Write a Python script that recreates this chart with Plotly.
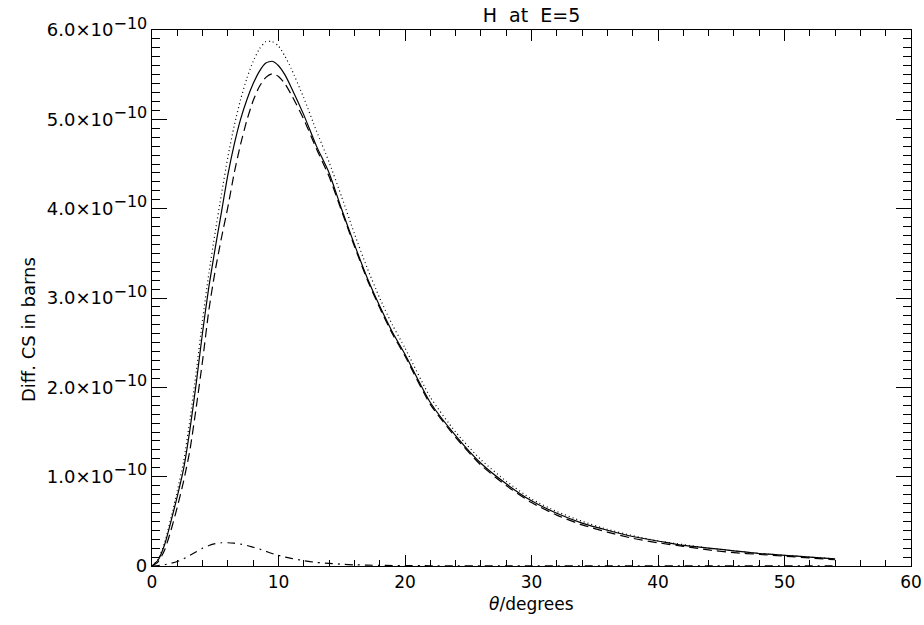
import numpy as np
import plotly.graph_objects as go

# angle (degrees)
theta = [0, 0.5, 1, 1.5, 2, 2.5, 3, 3.5, 4, 4.5, 5, 5.5, 6, 6.5, 7, 7.5, 8, 8.5, 9, 9.5,
         10, 10.5, 11, 12, 13, 14, 15, 16, 17, 18, 19, 20, 22, 24, 26, 28, 30, 32, 34,
         36, 38, 40, 42, 44, 46, 48, 50, 52, 54]

# values in units of 1e-10 barns
solid = [0, 0.07, 0.24, 0.50, 0.78, 1.09, 1.53, 2.05, 2.62, 3.13, 3.56, 3.97, 4.38, 4.72,
         5.00, 5.22, 5.40, 5.54, 5.63, 5.65, 5.60, 5.50, 5.36, 5.05, 4.70, 4.40, 3.99,
         3.60, 3.23, 2.91, 2.62, 2.37, 1.83, 1.46, 1.15, 0.92, 0.73, 0.59, 0.48, 0.40,
         0.33, 0.28, 0.23, 0.20, 0.17, 0.14, 0.12, 0.10, 0.08]
dotted = [0, 0.08, 0.26, 0.54, 0.84, 1.17, 1.64, 2.18, 2.76, 3.28, 3.74, 4.17, 4.58, 4.93,
          5.22, 5.46, 5.65, 5.79, 5.87, 5.87, 5.82, 5.71, 5.57, 5.24, 4.87, 4.52, 4.13,
          3.72, 3.34, 3.00, 2.70, 2.44, 1.89, 1.50, 1.19, 0.95, 0.75, 0.61, 0.50, 0.41,
          0.34, 0.28, 0.24, 0.20, 0.17, 0.14, 0.12, 0.10, 0.08]
dashed = [0, 0.05, 0.18, 0.40, 0.66, 0.95, 1.30, 1.78, 2.30, 2.87, 3.31, 3.68, 4.02, 4.40,
          4.72, 4.99, 5.21, 5.37, 5.47, 5.51, 5.48, 5.40, 5.28, 5.00, 4.67, 4.36, 3.97,
          3.58, 3.21, 2.89, 2.60, 2.35, 1.81, 1.44, 1.13, 0.90, 0.71, 0.57, 0.46, 0.38,
          0.31, 0.26, 0.22, 0.18, 0.15, 0.13, 0.11, 0.09, 0.07]
dashdot = [0, 0.005, 0.015, 0.03, 0.05, 0.08, 0.12, 0.16, 0.20, 0.23, 0.25, 0.26, 0.26,
           0.255, 0.245, 0.23, 0.21, 0.19, 0.165, 0.14, 0.12, 0.10, 0.085, 0.06, 0.04,
           0.03, 0.02, 0.013, 0.01, 0.007, 0.005, 0.004, 0.003, 0.003, 0.002, 0.002,
           0.002, 0.002, 0.001, 0.001, 0.001, 0.001, 0.001, 0.001, 0.001, 0.001, 0.001,
           0.001, 0.001]

scale = 1e-10
ytick_vals = [0, 1, 2, 3, 4, 5, 6]
SUP = "<sup><span style='font-size:16px'>−10</span></sup>"
ytick_text = ["0"] + [f"{v}.0×10{SUP}" for v in ytick_vals[1:]]
xtick_vals = [0, 10, 20, 30, 40, 50, 60]

FONT = "DejaVu Sans"
L, R, T, B = 152, 13, 30, 59
W, H = 924, 625
PW, PH = W - L - R, H - T - B

fig = go.Figure()
styles = [
    (dotted, "1px,3px"),
    (dashed, "9px,5px"),
    (dashdot, "8px,5px,2px,5px"),
    (solid, "solid"),
]
for vals, dash in styles:
    fig.add_trace(go.Scatter(
        x=theta, y=[v * scale for v in vals], mode="lines",
        line=dict(color="black", width=1.2, dash=dash, shape="spline", smoothing=0.6),
        showlegend=False, hoverinfo="skip"))

# invisible trace for mirrored top/right axes
fig.add_trace(go.Scatter(x=[None], y=[None], xaxis="x2", yaxis="y2",
                         showlegend=False, hoverinfo="skip"))

common = dict(showgrid=False, zeroline=False, showline=True, linecolor="black",
              linewidth=1.3, ticks="inside", tickcolor="black", tickwidth=1,
              automargin=False)
xminor = dict(dtick=2, ticklen=6, ticks="inside", tickcolor="black", tickwidth=1)
yminor = dict(dtick=0.1 * scale, ticklen=8, ticks="inside", tickcolor="black", tickwidth=1)

fig.update_layout(
    template="none",
    xaxis=dict(range=[0, 60], tickvals=xtick_vals, ticklen=11, minor=xminor,
               tickfont=dict(family=FONT, size=17, color="black"), **common),
    yaxis=dict(range=[0, 6 * scale], tickvals=[v * scale for v in ytick_vals],
               ticktext=ytick_text, ticklen=15, minor=yminor,
               tickfont=dict(family=FONT, size=18, color="black"), **common),
    xaxis2=dict(range=[0, 60], tickvals=xtick_vals, ticklen=11, minor=xminor,
                overlaying="x", side="top", showticklabels=False, anchor="y2", **common),
    yaxis2=dict(range=[0, 6 * scale], tickvals=[v * scale for v in ytick_vals],
                ticklen=15, minor=yminor, overlaying="y", side="right",
                showticklabels=False, anchor="x2", **common),
)

fig.add_annotation(text="Diff. CS in barns", xref="paper", yref="paper",
                   x=(28 - L) / PW, y=(H - B - 330) / PH, xanchor="center", yanchor="middle",
                   textangle=-90, showarrow=False,
                   font=dict(family=FONT, size=18, color="black"))
fig.add_annotation(text="<i>θ</i>/degrees", xref="paper", yref="paper",
                   x=(531 - L) / PW, y=(H - B - 604) / PH, xanchor="center", yanchor="middle",
                   showarrow=False, font=dict(family=FONT, size=17, color="black"))

fig.update_layout(
    width=W, height=H,
    margin=dict(l=L, r=R, t=T, b=B, autoexpand=False),
    paper_bgcolor="white", plot_bgcolor="white",
    title=dict(text="H  at  E=5", x=0.5, xanchor="center", xref="paper",
               y=1 - 15 / H, yanchor="middle", font=dict(family=FONT, size=19, color="black")),
)

fig.write_html("out.html", config={"responsive": False})
